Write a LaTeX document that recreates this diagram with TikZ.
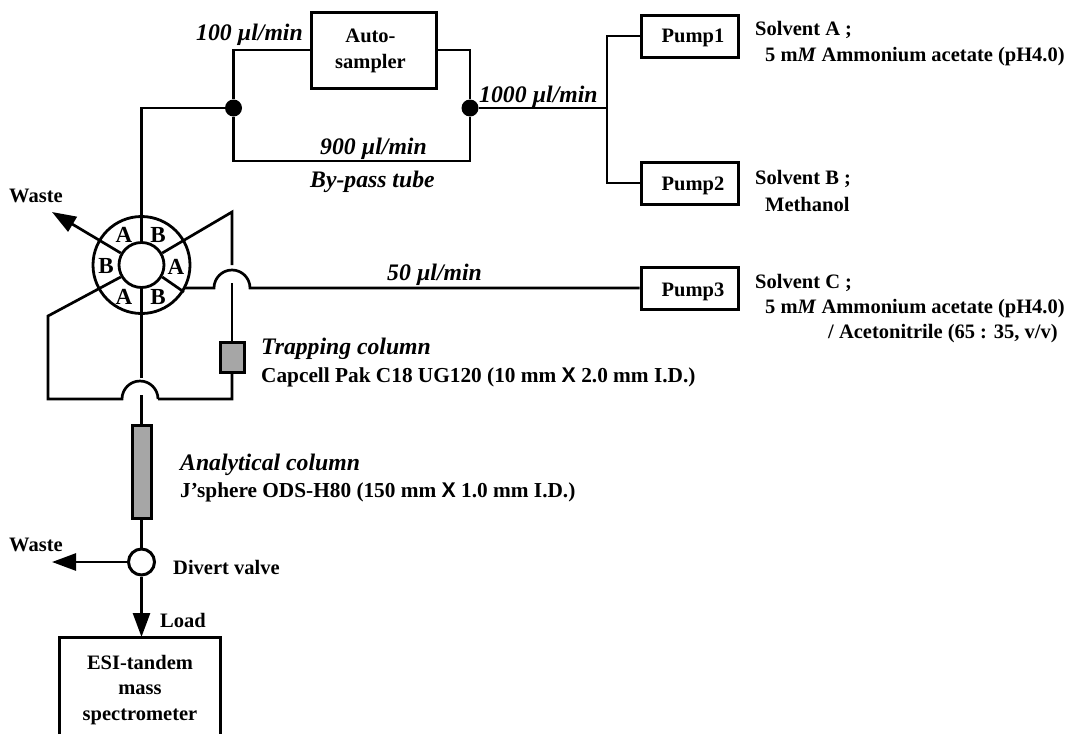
\documentclass[tikz,border=0pt]{standalone}
\usepackage{fontspec}
\setmainfont{Liberation Serif}
\setsansfont{Liberation Sans}
\usetikzlibrary{arrows.meta,calc}
\tikzset{
  pipe/.style={line width=2.7pt,line join=miter},
  flow/.style={pipe,-{Triangle[length=24pt,width=17pt]}},
  unitbox/.style={draw,line width=3pt,fill=white,inner sep=0pt},
  lab/.style={font=\fontsize{20.5}{25}\selectfont\bfseries,inner sep=0pt,align=left,anchor=west,yshift=-2pt},
  lablong/.style={font=\fontsize{21.3}{25}\selectfont\bfseries,inner sep=0pt,align=left,anchor=west,yshift=-2pt},
  ilab/.style={font=\fontsize{23.7}{26}\selectfont\bfseries\itshape,inner sep=0pt,anchor=west,yshift=-2pt},
  ctr/.style={font=\fontsize{20.5}{25.5}\selectfont\bfseries,inner sep=0pt,align=center},
  port/.style={font=\fontsize{23}{24}\selectfont\bfseries,inner sep=0pt},
  column/.style={draw,line width=3pt,fill=black!35,inner sep=0pt},
  jdot/.style={circle,fill=black,inner sep=0pt,minimum size=17pt}
}
\newcommand{\ul}{\textmu l}
\begin{document}
\begin{tikzpicture}[x=1pt,y=-1pt]
\useasboundingbox (0,0) rectangle (1078,734);
% units
\node[unitbox,minimum width=125pt,minimum height=76pt] (auto) at (373.5,50) {};
\node[ctr] (autot) at (370.5,51) {Auto-\\sampler};
\node[unitbox,minimum width=97pt,minimum height=42pt] (p1) at (689.5,36) {};
\node[unitbox,minimum width=97pt,minimum height=42pt] (p2) at (689.5,183) {};
\node[unitbox,minimum width=97pt,minimum height=42pt] (p3) at (689.5,288) {};
\node[ctr] (p1t) at (693,38) {Pump1};
\node[ctr] (p2t) at (693,186) {Pump2};
\node[ctr] (p3t) at (693,292) {Pump3};
\node[jdot] (jl) at (233.5,108) {};
\node[jdot] (jr) at (470,108) {};
\coordinate (split) at (607,108);
% auto-sampler loop
\draw[pipe] (auto.west) -| (jl);
\draw[pipe] (auto.east) -| (jr);
\coordinate (bl) at (233.5,161);
\coordinate (br) at (470,161);
\draw[pipe] (jl) -- (bl) -- (br) -- (jr);
\draw[pipe] (jr) -- (split);
\draw[pipe] (p1.west) -| (split) |- (p2.west);
% valve
\coordinate (v) at (141.5,265);
\coordinate (vtop) at (141.5,108);
\draw[pipe] (jl) -- (vtop) -- (141.5,243);
\draw[line width=2.8pt] (v) circle[radius=48.5pt];
\node[circle,draw,line width=2.8pt,minimum size=45pt,inner sep=0pt] (hub) at (v) {};
% spokes
\coordinate (ur) at (232,212);
\coordinate (ll) at (48,316);
\coordinate (lbot) at (48,399);
\coordinate (rbot) at (232,399);
\coordinate (wasteTip) at (52,212);
\draw[flow] (hub.150) -- (wasteTip);
\draw[pipe] (hub.30) -- (ur) -- (232,265);
\draw[pipe] (hub.210) -- (ll) -- (lbot) -- (122,399) arc[start angle=180,end angle=0,radius=18pt] (158,399) -- (rbot) -- (232,372);
\draw[pipe] (hub.-30) -- (184,292);
\draw[pipe] (184,288) -- (214,288) arc[start angle=180,end angle=0,radius=18pt] -- (p3.west);
\draw[pipe] (hub.south) -- (141.5,378);
% trapping column
\node[column,minimum width=24pt,minimum height=30pt] (trap) at (232,357) {};
\draw[pipe] (232,283) -- (trap.north);
% analytical column
\node[column,minimum width=19pt,minimum height=93pt] (anal) at (141.5,471.5) {};
\draw[pipe] (141.5,395) -- (anal.north);
% divert valve
\node[circle,draw,line width=3pt,minimum size=26pt,inner sep=0pt,fill=white] (div) at (141.5,562) {};
\draw[pipe] (anal.south) -- (div.north);
\coordinate (wasteB) at (52,562);
\draw[flow] (div.west) -- (wasteB);
\coordinate (mstop) at (141.5,637);
\draw[flow] (div.south) -- (mstop);
% MS box (runs off the bottom)
\draw[line width=3pt] (59,734) -- (59,637) -- (220,637) -- (220,734);
\node[ctr] (ms) at (140,690) {ESI-tandem\\mass\\spectrometer};
% ports
\node[port] (pa1) at (124,235) {A};
\node[port] (pb1) at (158,235) {B};
\node[port] (pb2) at (106,266) {B};
\node[port] (pa2) at (176,267) {A};
\node[port] (pa3) at (124,297) {A};
\node[port] (pb3) at (158,297) {B};
% labels
\node[ilab] (l100) at (196,33) {100 \ul/min};
\node[ilab] (l900) at (320,147) {900 \ul/min};
\node[ilab] (lby) at (310,180) {By-pass tube};
\node[ilab] (l1000) at (479,95) {1000 \ul/min};
\node[ilab] (l50) at (387,273) {50 \ul/min};
\node[lab] at (755,28) {Solvent A ;};
\node[lab] at (765,55) {5 m\textit{M} Ammonium acetate (pH4.0)};
\node[lab] at (755,177) {Solvent B ;};
\node[lab] at (765,202) {Methanol};
\node[lab] at (755,281) {Solvent C ;};
\node[lab] at (765,307) {5 m\textit{M} Ammonium acetate (pH4.0)};
\node[lab] at (828,332) {/ Acetonitrile (65 : 35, v/v)};
\node[ilab] at (261,347) {Trapping column};
\node[lablong] at (261,375) {Capcell Pak C18 UG120 (10 mm \textsf{X} 2.0 mm I.D.)};
\node[ilab] at (180,463) {Analytical column};
\node[lablong] at (180,490) {J’sphere ODS-H80 (150 mm \textsf{X} 1.0 mm I.D.)};
\node[lab] at (9,194) {Waste};
\node[lab] at (9,543) {Waste};
\node[lab] at (173,565) {Divert valve};
\node[lab] at (160,618) {Load};
\end{tikzpicture}
\end{document}
